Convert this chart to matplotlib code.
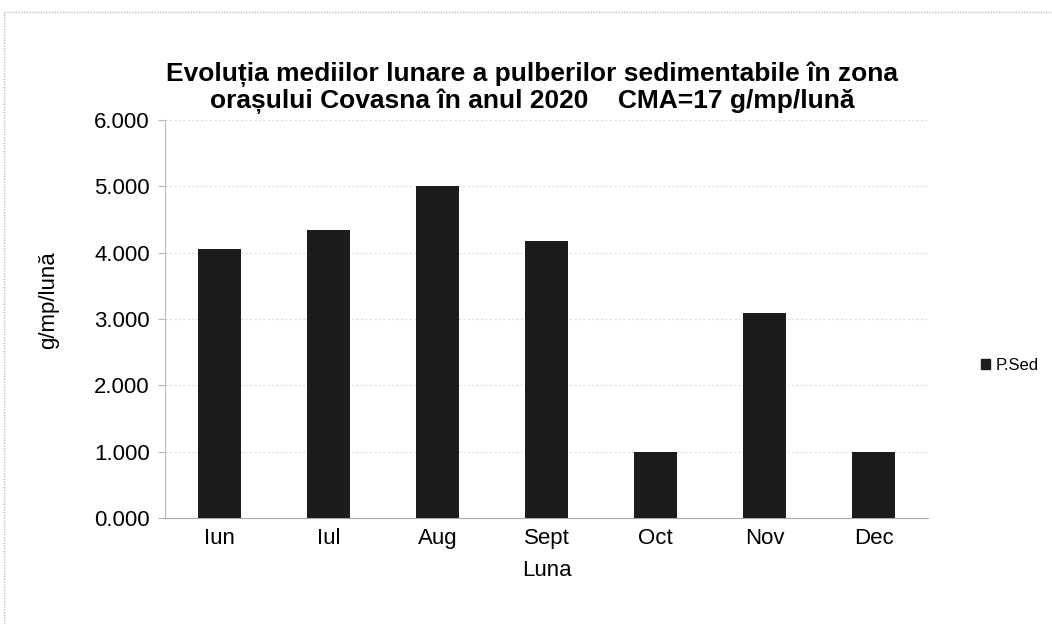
import matplotlib
matplotlib.use("Agg")
import matplotlib.pyplot as plt
from matplotlib.lines import Line2D
from matplotlib.patches import Patch

months = ["Iun", "Iul", "Aug", "Sept", "Oct", "Nov", "Dec"]
p_sed = [4.06, 4.34, 5.00, 4.18, 1.00, 3.09, 0.99]
y_ticks = [0, 1, 2, 3, 4, 5, 6]

plt.rcParams["font.family"] = ["Liberation Sans", "DejaVu Sans"]

fig = plt.figure(figsize=(10.52, 6.24), dpi=100)
ax = fig.add_axes([165 / 1052, 1 - 518 / 624, 763 / 1052, 398 / 624])

x = range(len(months))
ax.bar(x, p_sed, width=0.4, color="#1c1c1c", zorder=3, label="P.Sed")

ax.set_xlim(-0.5, len(months) - 0.5)
ax.set_ylim(0, 6)
ax.set_yticks(y_ticks)
ax.set_yticklabels([f"{v:.3f}" for v in y_ticks], fontsize=16)
ax.set_xticks(list(x))
ax.set_xticklabels(months, fontsize=16)
ax.tick_params(axis="x", length=0, pad=7)
ax.tick_params(axis="y", length=5, color="#b8b8b8", pad=6)

ax.grid(axis="y", color="#dedede", linestyle=(0, (2, 2)), linewidth=0.8, zorder=0)
for side in ["top", "right"]:
    ax.spines[side].set_visible(False)
ax.spines["left"].set_color("#b8b8b8")
ax.spines["bottom"].set_color("#a8a8a8")
ax.spines["bottom"].set_linestyle((0, (1, 1)))

ax.set_xlabel("Luna", fontsize=16, labelpad=8)
ax.set_ylabel("g/mp/lună", fontsize=16)
ax.yaxis.set_label_coords(-(165 - 59) / 763, (518 - 300) / 398)

fig.text(532 / 1052, 1 - 88 / 624,
         "Evoluția mediilor lunare a pulberilor sedimentabile în zona\n"
         "orașului Covasna în anul 2020    CMA=17 g/mp/lună",
         ha="center", va="center", fontsize=19, fontweight="bold", linespacing=1.08)

handle = Patch(facecolor="#1c1c1c", edgecolor="#1c1c1c")
fig.legend([handle], ["P.Sed"], loc="center left",
           bbox_to_anchor=(966 / 1052, 1 - 365 / 624), frameon=False,
           fontsize=12, handlelength=0.55, handleheight=0.55, handletextpad=0.3)

# outer chart frame (only top and left visible in the scan)
fig.add_artist(Line2D([4 / 1052, 1], [1 - 12 / 624, 1 - 12 / 624],
                      transform=fig.transFigure, color="#b8c4b0",
                      linewidth=1, linestyle=(0, (1, 1))))
fig.add_artist(Line2D([4 / 1052, 4 / 1052], [0, 1 - 12 / 624],
                      transform=fig.transFigure, color="#b8c4b0",
                      linewidth=1, linestyle=(0, (1, 1))))

fig.savefig("out.png", dpi=100)
